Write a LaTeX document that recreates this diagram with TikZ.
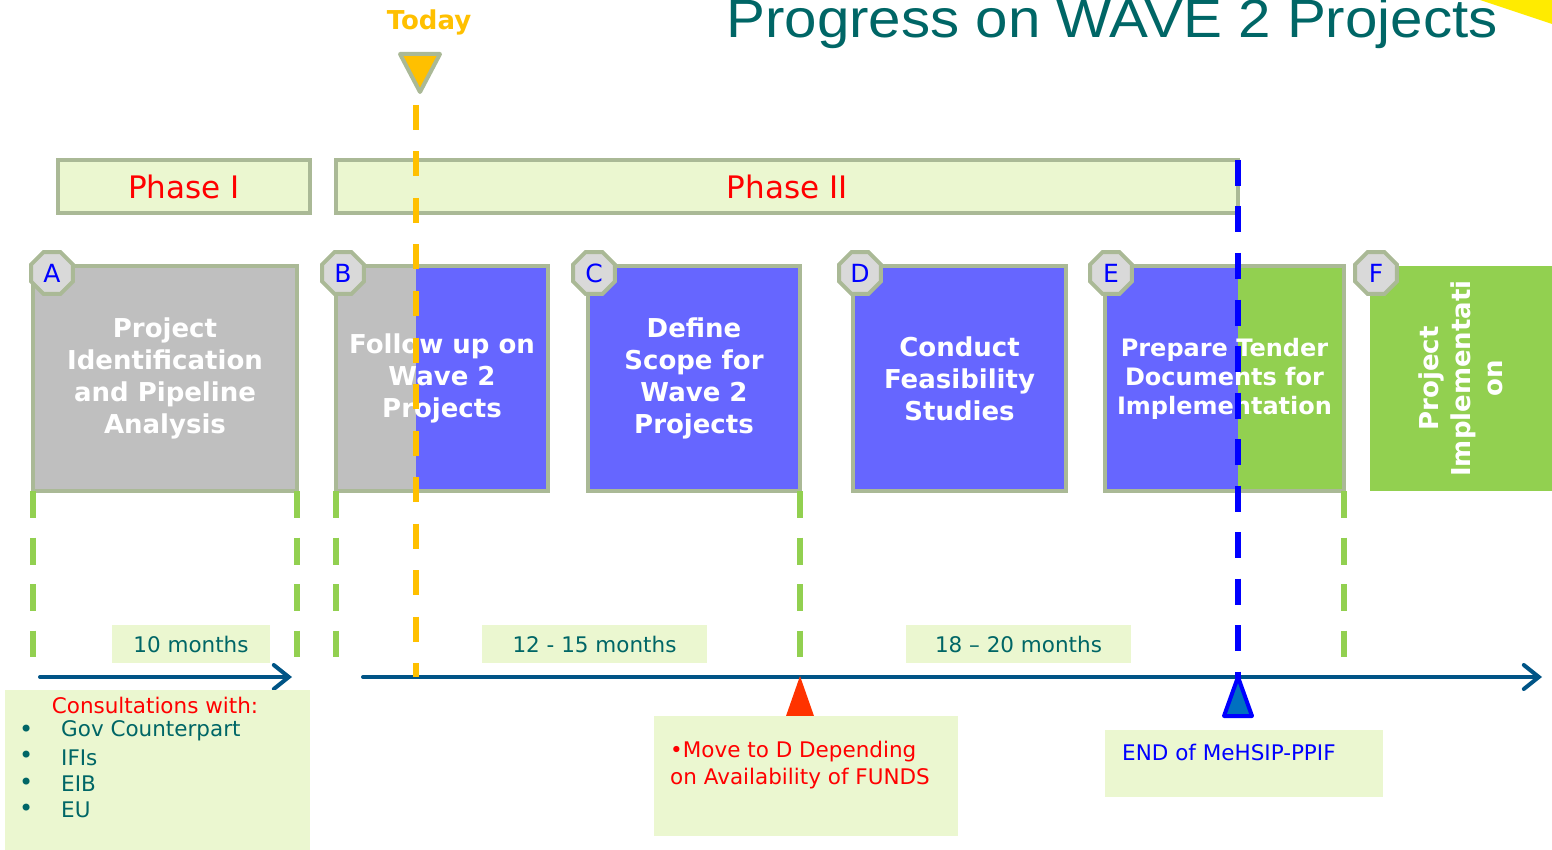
\documentclass[tikz,border=0pt]{standalone}
\usepackage{fontspec}
\setmainfont{DejaVu Sans}
\newfontfamily\titlefont{Liberation Sans}
\usetikzlibrary{arrows.meta,shapes.geometric}

\begin{document}
\begin{tikzpicture}[x=1pt,y=-1pt,
  phasebox/.style={draw=SAGE, line width=4, fill=PALE, minimum height=53,
    inner sep=0, outer sep=0, text=RED, font=\fontsize{31}{36}\selectfont},
  stagebox/.style={draw=SAGE, line width=4, minimum width=#1, minimum height=225,
    inner sep=0, outer sep=0, align=center, text=white,
    font=\bfseries\fontsize{26}{32}\selectfont},
  octlabel/.style={regular polygon, regular polygon sides=8, minimum size=45,
    inner sep=0, outer sep=0, draw=SAGE, line width=4, fill=OCTFILL,
    text=BLUE, font=\fontsize{25}{28}\selectfont},
  greendash/.style={GREENBOX, line width=6, dash pattern=on 27pt off 19.5pt},
  durbox/.style={fill=PALE, minimum height=38, inner sep=0, text=TEAL,
    font=\fontsize{21.5}{26}\selectfont},
  notebox/.style={fill=PALE, inner sep=0, outer sep=0},
  notetext/.style={inner sep=0, anchor=west, align=left,
    font=\fontsize{21.5}{26.4}\selectfont},
  axis/.style={AXIS, line width=4, line cap=round,
    -{Straight Barb[length=15pt, width=24pt, line cap=round]}}]

\definecolor{SAGE}{RGB}{170,185,150}
\definecolor{PALE}{RGB}{235,247,208}
\definecolor{GRAYBOX}{RGB}{191,191,191}
\definecolor{BLUEBOX}{RGB}{102,102,255}
\definecolor{GREENBOX}{RGB}{146,208,80}
\definecolor{OCTFILL}{RGB}{217,217,217}
\definecolor{TEAL}{RGB}{0,102,102}
\definecolor{AXIS}{RGB}{0,84,134}
\definecolor{ORANGE}{RGB}{255,192,0}
\definecolor{REDTRI}{RGB}{255,51,0}
\definecolor{MARKBLUE}{RGB}{0,112,192}
\definecolor{RED}{RGB}{255,0,0}
\definecolor{BLUE}{RGB}{0,0,255}
\definecolor{YELLOW}{RGB}{255,235,0}

\useasboundingbox (0,0) rectangle (1552,850);

% title and corner
\fill[YELLOW] (1480,0) -- (1552,0) -- (1552,24) -- cycle;
\node[anchor=base east, inner sep=0, text=TEAL, xscale=1.08,
  font=\titlefont\fontsize{54}{64}\selectfont] (title) at (1498,38)
  {Progress on WAVE 2 Projects};

% phases
\node[phasebox, minimum width=252] (ph1) at (184,186.5) {Phase I};
\node[phasebox, minimum width=902] (ph2) at (787,186.5) {Phase II};

% stage boxes
\fill[BLUEBOX] (336,266) rectangle (548,491);
\fill[GRAYBOX] (336,266) rectangle (416,491);
\fill[BLUEBOX] (1105,266) rectangle (1238,491);
\fill[GREENBOX] (1238,266) rectangle (1344,491);
\node[stagebox=264, fill=GRAYBOX] (A) at (165,378.5)
  {Project\\Identification\\and Pipeline\\Analysis};
\node[stagebox=212] (B) at (442,378.5) {Follow up on\\Wave 2\\Projects};
\node[stagebox=212, fill=BLUEBOX] (C) at (694,378.5)
  {Define\\Scope for\\Wave 2\\Projects};
\node[stagebox=213, fill=BLUEBOX] (D) at (959.5,378.5)
  {Conduct\\Feasibility\\Studies};
\node[stagebox=239, font=\bfseries\fontsize{24}{29}\selectfont] (E) at (1224.5,378.5)
  {Prepare Tender\\Documents for\\Implementation};
\node[stagebox=225, draw=none, fill=GREENBOX, minimum height=182, rotate=90] (F)
  at (1461,378.5) {Project\\Implementati\\on};

% stage letters
\node[octlabel] (labA) at (52,273) {A};
\node[octlabel] (labB) at (343,273) {B};
\node[octlabel] (labC) at (594,273) {C};
\node[octlabel] (labD) at (860,273) {D};
\node[octlabel] (labE) at (1111,273) {E};
\node[octlabel] (labF) at (1376,273) {F};

% duration marks
\foreach \stage/\corner in {A/south west, A/south east, B/south west,
    C/south east, E/south east}
  \draw[greendash] (\stage.\corner) -- ++(0,166);
\node[durbox, minimum width=158] (durA) at (191,644) {10 months};
\node[durbox, minimum width=225] (durBC) at (594.5,644) {12 - 15 months};
\node[durbox, minimum width=225] (durDE) at (1018.5,644) {18 – 20 months};

% time axis
\coordinate (axAstart) at (40,677);
\coordinate (axAend) at (292,677);
\coordinate (axBstart) at (363,677);
\coordinate (axBend) at (1542,677);
\draw[axis] (axAstart) -- (axAend);
\draw[axis] (axBstart) -- (axBend);

% today marker
\node[inner sep=0, text=ORANGE, font=\bfseries\fontsize{26}{30}\selectfont]
  (today) at (429,22) {Today};
\draw[SAGE, line width=4, line join=round, fill=ORANGE]
  (400,54) -- (440,54) -- (420,92) -- cycle;
\coordinate (todaytop) at (416,105);
\coordinate (todaybot) at (416,677);
\draw[ORANGE, line width=6, dash pattern=on 25pt off 21.5pt] (todaytop) -- (todaybot);

% end of programme marker
\coordinate (endtop) at (1238,160);
\coordinate (endbot) at (1238,678);
\draw[BLUE, line width=6, dash pattern=on 26pt off 20.5pt] (endtop) -- (endbot);
\draw[BLUE, line width=4, line join=round, fill=MARKBLUE]
  (1224,716) -- (1238,677) -- (1252,716) -- cycle;
\fill[REDTRI] (786,716) -- (800,676) -- (814,716) -- cycle;

% notes
\node[notebox, minimum width=305, minimum height=160] (consult) at (157.5,770) {};
\node[notetext, anchor=center, text=RED] (consulthead) at (155,705) {Consultations with:};
\foreach \entry [count=\i] in {Gov Counterpart, IFIs, EIB, EU} {
  \node[notetext, text=TEAL, font=\fontsize{24}{24}\selectfont] (bullet\i)
    at ({19},{731+26.4*(\i-1)}) {•};
  \node[notetext, text=TEAL] (entry\i) at ({61},{731+26.4*(\i-1)}) {\entry};
}
\node[notebox, minimum width=304, minimum height=120] (movebox) at (806,776) {};
\node[notetext, text=RED] (movetxt) at (670,765)
  {•Move to D Depending\\on Availability of FUNDS};
\node[notebox, minimum width=278, minimum height=67] (endbox) at (1244,763.5) {};
\node[notetext, text=BLUE] (endtxt) at (1122,752) {END of MeHSIP-PPIF};

\end{tikzpicture}
\end{document}
